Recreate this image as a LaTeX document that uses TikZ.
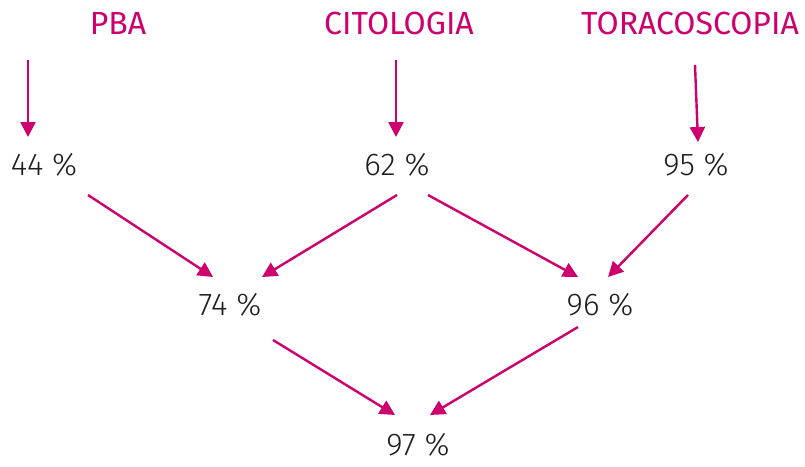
\documentclass[tikz,border=0pt]{standalone}
\usepackage{fontspec}
\setmainfont{Fira Sans}
\newfontfamily\numfont{Fira Sans Light}
\usetikzlibrary{arrows.meta,calc}
\definecolor{magenta}{RGB}{206,0,110}
\definecolor{ink}{RGB}{30,30,30}

\begin{document}
\begin{tikzpicture}[x=1pt, y=-1pt,
    title/.style={text=magenta, font=\fontsize{32}{36}\selectfont, inner sep=0pt},
    pct/.style={text=ink, font=\numfont\fontsize{31.5}{36}\selectfont, inner sep=0pt},
    arr/.style={draw=magenta, line width=2.4pt, -{Triangle[length=15pt,width=15pt]}}]
    \useasboundingbox (0,0) rectangle (805,466);
    % sources
    \node[title] (pba) at (118,23) {PBA};
    \node[title] (cit) at (399,23) {CITOLOGIA};
    \node[title] (tor) at (690,23) {TORACOSCOPIA};
    \coordinate (pbatop) at (28,60);
    % percentages
    \node[pct] (p44) at (44,165) {44 \%};
    \node[pct] (p62) at (397,165) {62 \%};
    \node[pct] (p95) at (696,165) {95 \%};
    \node[pct] (p74) at (230,305) {74 \%};
    \node[pct] (p96) at (600,305) {96 \%};
    \node[pct] (p97) at (418,445) {97 \%};
    % arrows
    \draw[arr] (pbatop) -- ($(p44)+(-16,-28)$);
    \draw[arr] ($(cit)+(-3,37)$) -- ($(p62)+(-1,-28)$);
    \draw[arr] ($(tor)+(5,42)$) -- ($(p95)+(2,-23)$);
    \draw[arr] ($(p44)+(44,30)$) -- ($(p74)+(-17,-28)$);
    \draw[arr] ($(p62)+(0,30)$) -- ($(p74)+(32,-28)$);
    \draw[arr] ($(p62)+(31,30)$) -- ($(p96)+(-22,-28)$);
    \draw[arr] ($(p95)+(-8,30)$) -- ($(p96)+(8,-28)$);
    \draw[arr] ($(p74)+(43,35)$) -- ($(p97)+(-23,-30)$);
    \draw[arr] ($(p96)+(-22,22)$) -- ($(p97)+(12,-30)$);
\end{tikzpicture}
\end{document}
